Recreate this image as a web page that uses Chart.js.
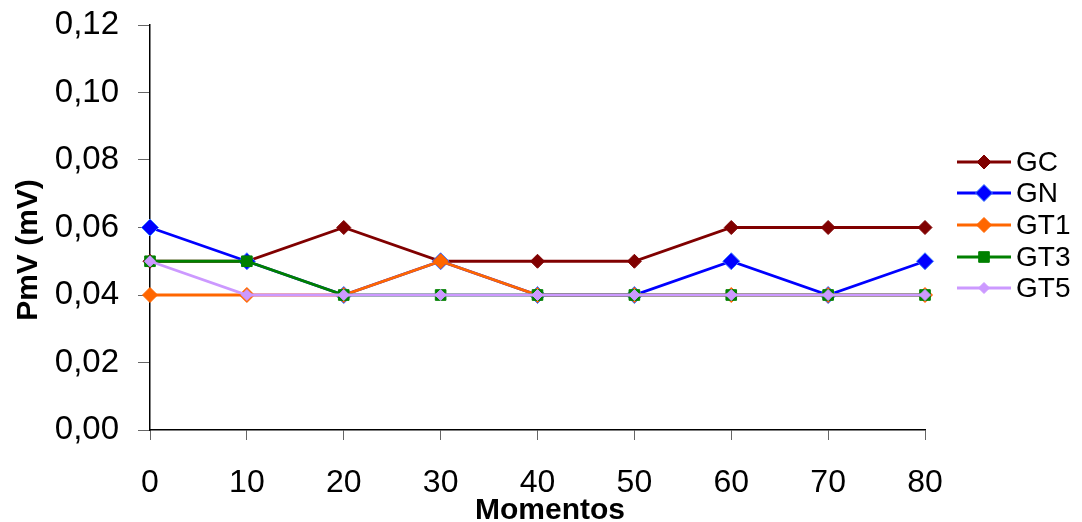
<!DOCTYPE html>
<html>
<head>
<meta charset="utf-8">
<script src="https://cdn.jsdelivr.net/npm/chart.js@4"></script>
<style>
  html, body { margin: 0; padding: 0; background: #fff; }
  #wrap { width: 1082px; height: 522px; }
</style>
</head>
<body>
<div id="wrap"><canvas id="grafico"></canvas></div>
<script>
// dados
const momentos = ['0', '10', '20', '30', '40', '50', '60', '70', '80'];
const gc  = [0.05, 0.05, 0.06, 0.05, 0.05, 0.05, 0.06, 0.06, 0.06];
const gn  = [0.06, 0.05, 0.04, 0.05, 0.04, 0.04, 0.05, 0.04, 0.05];
const gt1 = [0.04, 0.04, 0.04, 0.05, 0.04, 0.04, 0.04, 0.04, 0.04];
const gt3 = [0.05, 0.05, 0.04, 0.04, 0.04, 0.04, 0.04, 0.04, 0.04];
const gt5 = [0.05, 0.04, 0.04, 0.04, 0.04, 0.04, 0.04, 0.04, 0.04];
const yTicks = [0, 0.02, 0.04, 0.06, 0.08, 0.10, 0.12];
const tituloX = 'Momentos';
const tituloY = 'PmV (mV)';

const fonte = '"Liberation Sans", Arial, Helvetica, sans-serif';

function serie(label, data, cor, estilo, raio, borda, ordem) {
    return {
        label: label,
        data: data,
        borderColor: cor,
        backgroundColor: cor,
        borderWidth: 2.8,
        pointStyle: estilo,
        pointRadius: raio,
        pointHoverRadius: raio,
        pointBackgroundColor: cor,
        pointBorderColor: borda,
        pointBorderWidth: 1,
        tension: 0,
        clip: false,
        order: ordem
    };
}

const datasets = [
    serie('GC', gc, '#800000', 'rectRot', 7, '#800000', 4),
    serie('GN', gn, '#0000ff', 'rectRot', 8.5, '#3f7fff', 3),
    serie('GT1', gt1, '#ff6600', 'rectRot', 7.5, '#ff6600', 2),
    serie('GT3', gt3, '#008000', 'rect', 7.5, '#008000', 1),
    serie('GT5', gt5, '#cc99ff', 'rectRot', 5.5, '#cc99ff', 0)
];

// legenda (linha + marcador + texto) e títulos dos eixos
const legendaPlugin = {
    id: 'legendaLinha',
    afterDraw(chart) {
        const ctx = chart.ctx;
        const x0 = 957, x1 = 1011, xt = 1016;
        const ys = [162, 193, 225, 257, 288];
        ctx.save();
        chart.data.datasets.forEach((ds, i) => {
            const y = ys[i];
            ctx.strokeStyle = ds.borderColor;
            ctx.lineWidth = 2.8;
            ctx.beginPath();
            ctx.moveTo(x0, y);
            ctx.lineTo(x1, y);
            ctx.stroke();
            const xm = (x0 + x1) / 2;
            ctx.fillStyle = ds.pointBackgroundColor;
            ctx.strokeStyle = ds.pointBorderColor;
            ctx.lineWidth = 1;
            ctx.beginPath();
            if (ds.pointStyle === 'rect') {
                const s = ds.pointRadius * Math.SQRT1_2;
                ctx.rect(xm - s, y - s, 2 * s, 2 * s);
            } else {
                const r = ds.pointRadius;
                ctx.moveTo(xm, y - r);
                ctx.lineTo(xm + r, y);
                ctx.lineTo(xm, y + r);
                ctx.lineTo(xm - r, y);
                ctx.closePath();
            }
            ctx.fill();
            ctx.stroke();
            ctx.fillStyle = '#000';
            ctx.font = '28px ' + fonte;
            ctx.textAlign = 'left';
            ctx.textBaseline = 'middle';
            ctx.fillText(ds.label, xt, y + 1);
        });

        // títulos
        ctx.fillStyle = '#000';
        ctx.font = 'bold 30px ' + fonte;
        ctx.textAlign = 'center';
        ctx.textBaseline = 'alphabetic';
        ctx.fillText(tituloX, 550, 519);
        ctx.translate(37, 250);
        ctx.rotate(-Math.PI / 2);
        ctx.fillText(tituloY, 0, 0);
        ctx.restore();
    }
};

const ctx = document.getElementById('grafico').getContext('2d');
new Chart(ctx, {
    type: 'line',
    data: { labels: momentos, datasets: datasets },
    plugins: [legendaPlugin],
    options: {
        responsive: true,
        maintainAspectRatio: false,
        animation: false,
        events: [],
        layout: { padding: { top: 25, right: 157, left: 0, bottom: 0 } },
        plugins: {
            legend: { display: false },
            tooltip: { enabled: false }
        },
        scales: {
            x: {
                offset: false,
                border: { color: '#000', width: 1.5 },
                grid: { display: true, drawOnChartArea: false, drawTicks: true, tickLength: 10, color: '#666' },
                ticks: { color: '#000', font: { family: fonte, size: 32 }, padding: 24, maxRotation: 0, autoSkip: false },
                afterFit(scale) { scale.height = 92; scale.paddingLeft = 0; scale.paddingRight = 0; }
            },
            y: {
                min: 0,
                max: 0.12,
                border: { color: '#000', width: 1.5 },
                grid: { display: true, drawOnChartArea: false, drawTicks: true, tickLength: 12, color: '#666' },
                afterBuildTicks(scale) { scale.ticks = yTicks.map(v => ({ value: v })); },
                ticks: {
                    color: '#000',
                    font: { family: fonte, size: 33 },
                    padding: 19,
                    callback: v => v.toFixed(2).replace('.', ',')
                },
                afterFit(scale) { scale.width = 150; scale.paddingTop = 0; scale.paddingBottom = 0; }
            }
        }
    }
});
</script>
</body>
</html>
